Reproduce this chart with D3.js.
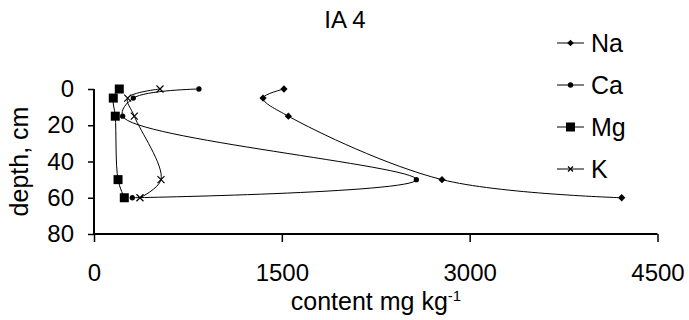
<!DOCTYPE html>
<html><head><meta charset="utf-8">
<script src="https://cdn.jsdelivr.net/npm/d3@7"></script>
<style>
html,body{margin:0;padding:0;background:#fff;}
text{font-family:Arial,"Liberation Sans",sans-serif;fill:#000;}
</style></head>
<body>
<svg id="chart" width="689" height="320"></svg>
<script>
const depths = [0, 5, 15, 50, 60];
const naValues = [1517, 1350, 1552, 2779, 4214];
const caValues = [838, 314, 229, 2574, 306];
const mgValues = [202, 154, 170, 192, 242];
const kValues = [527, 269, 322, 535, 367];
const seriesNames = ["Na", "Ca", "Mg", "K"];
const xTicks = [0, 1500, 3000, 4500];
const yTicks = [0, 20, 40, 60, 80];

const series = [
  {name: "Na", values: naValues, marker: "diamond"},
  {name: "Ca", values: caValues, marker: "circle"},
  {name: "Mg", values: mgValues, marker: "square"},
  {name: "K",  values: kValues,  marker: "cross"}
];

const svg = d3.select("#chart");
const x = d3.scaleLinear().domain([0, 4500]).range([94, 657.5]);
const y = d3.scaleLinear().domain([0, 80]).range([89, 234]);
const FS = 24;

// title
svg.append("text").attr("x", 345).attr("y", 28).attr("text-anchor", "middle")
  .style("font-size", FS + "px").text("IA 4");

// x axis
const xAxis = svg.append("g").attr("transform", `translate(0,${y(80)})`)
  .call(d3.axisBottom(x).tickValues(xTicks).tickSize(8).tickPadding(22).tickFormat(d3.format("d")));
xAxis.select(".domain").attr("stroke", "#000").attr("stroke-width", 2).attr("d", `M${x(0)},0H${x(4500)}`);
xAxis.selectAll(".tick line").attr("stroke", "#000").attr("stroke-width", 1.5);
xAxis.selectAll(".tick text").style("font-size", FS + "px").attr("font-family", null);

// y axis
const yAxis = svg.append("g").attr("transform", `translate(${x(0)},0)`)
  .call(d3.axisLeft(y).tickValues(yTicks).tickSize(6).tickPadding(14).tickFormat(d3.format("d")));
yAxis.select(".domain").attr("stroke", "#000").attr("stroke-width", 2).attr("d", `M0,${y(0)}V${y(80)}`);
yAxis.selectAll(".tick line").attr("stroke", "#000").attr("stroke-width", 1.5);
yAxis.selectAll(".tick text").style("font-size", FS + "px").attr("font-family", null);

// axis titles
const xt = svg.append("text").attr("x", 376).attr("y", 310).attr("text-anchor", "middle")
  .style("font-size", "25px");
xt.append("tspan").text("content mg kg");
xt.append("tspan").attr("dy", -9).style("font-size", "15px").text("-1");

svg.append("text").attr("transform", `translate(28,${(y(0)+y(80))/2}) rotate(-90)`)
  .attr("text-anchor", "middle").style("font-size", "25px").text("depth, cm");

// lines
const line = d3.line().x(d => x(d.v)).y(d => y(d.d)).curve(d3.curveCatmullRom.alpha(0.5));

function drawMarker(g, type, cx, cy, size) {
  if (type === "diamond") {
    const s = size * 0.55;
    g.append("path").attr("d", `M${cx},${cy-s}L${cx+s},${cy}L${cx},${cy+s}L${cx-s},${cy}Z`).attr("fill", "#000");
  } else if (type === "circle") {
    g.append("circle").attr("cx", cx).attr("cy", cy).attr("r", size * 0.45).attr("fill", "#000");
  } else if (type === "square") {
    g.append("rect").attr("x", cx - size/2).attr("y", cy - size/2).attr("width", size).attr("height", size).attr("fill", "#000");
  } else if (type === "cross") {
    const s = size / 2;
    g.append("path").attr("d", `M${cx-s},${cy-s}L${cx+s},${cy+s}M${cx-s},${cy+s}L${cx+s},${cy-s}`)
      .attr("stroke", "#000").attr("stroke-width", 1.2).attr("fill", "none");
  }
}

const markerSize = {diamond: 12, circle: 13, square: 9, cross: 7};

series.forEach(s => {
  const pts = depths.map((d, i) => ({d: d, v: s.values[i]}));
  svg.append("path").datum(pts).attr("d", line).attr("fill", "none").attr("stroke", "#000").attr("stroke-width", 1);
  const g = svg.append("g");
  pts.forEach(p => drawMarker(g, s.marker, x(p.v), y(p.d), markerSize[s.marker] * (s.marker === "diamond" ? 0.55 : s.marker === "circle" ? 0.45 : 1)));
});

// legend
const legendY = [43, 85, 127, 169];
const legendMarkerSize = {diamond: 3.5, circle: 2.6, square: 9, cross: 5};
series.forEach((s, i) => {
  const g = svg.append("g");
  const ly = legendY[i];
  g.append("line").attr("x1", 557).attr("x2", 584).attr("y1", ly).attr("y2", ly).attr("stroke", "#000").attr("stroke-width", 1);
  if (s.marker === "diamond") drawMarker(g, "diamond", 570.5, ly, 6);
  else if (s.marker === "circle") drawMarker(g, "circle", 570.5, ly, 6);
  else drawMarker(g, s.marker, 570.5, ly, legendMarkerSize[s.marker]);
  g.append("text").attr("x", 591).attr("y", ly + 9).style("font-size", "25px").text(seriesNames[i]);
});
</script>
</body></html>
